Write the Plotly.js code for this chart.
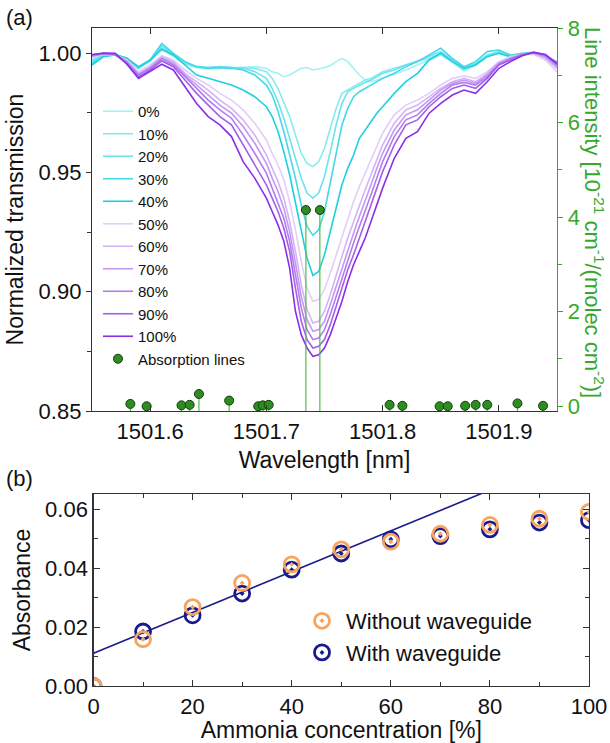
<!DOCTYPE html>
<html>
<head>
<meta charset="utf-8">
<script src="https://cdn.plot.ly/plotly-3.0.1.min.js"></script>
<style>
html,body{margin:0;padding:0;background:#fff;}
#chart{width:610px;height:743px;}
</style>
</head>
<body>
<div id="chart"></div>
<script>
// ---------- Panel (a): transmission spectra ----------
const wavelength = [1501.55,1501.56,1501.57,1501.58,1501.59,1501.60,1501.61,1501.62,1501.63,1501.64,1501.65,1501.66,1501.67,1501.68,1501.69,
  1501.70,1501.705,1501.71,1501.715,1501.72,1501.725,1501.73,1501.735,1501.74,1501.745,1501.75,1501.755,1501.76,1501.765,1501.77,1501.775,1501.78,1501.785,1501.79,1501.795,1501.80,
  1501.81,1501.82,1501.83,1501.84,1501.85,1501.86,1501.87,1501.88,1501.89,1501.90,1501.91,1501.92,1501.93,1501.94,1501.95];

const concLabels = ["0%","10%","20%","30%","40%","50%","60%","70%","80%","90%","100%"];

const trans0 = [0.9978,0.9994,0.9994,0.9975,0.9939,0.9964,1.0013,0.9985,0.9953,0.9939,0.9936,0.9939,0.9936,0.9939,0.9943,0.9936,0.9922,0.9915,0.9901,0.9908,0.9922,0.9936,0.9939,0.9929,0.9933,0.9939,0.9947,0.9964,0.9978,0.9964,0.9936,0.9908,0.9887,0.9880,0.9887,0.9894,0.9911,0.9929,0.9950,0.9971,0.9992,0.9961,0.9925,0.9950,0.9985,0.9999,0.9980,0.9989,0.9999,0.9971,0.9943];
const trans10 = [0.9971,0.9992,0.9994,0.9978,0.9939,0.9967,1.0022,0.9989,0.9957,0.9943,0.9939,0.9943,0.9939,0.9939,0.9936,0.9922,0.9894,0.9852,0.9796,0.9734,0.9657,0.9580,0.9538,0.9524,0.9545,0.9601,0.9685,0.9768,0.9831,0.9845,0.9859,0.9873,0.9887,0.9894,0.9908,0.9922,0.9936,0.9950,0.9961,0.9978,0.9999,0.9967,0.9929,0.9953,0.9989,1.0003,0.9985,0.9992,1.0000,0.9975,0.9953];
const trans20 = [0.9964,0.9992,0.9994,0.9978,0.9936,0.9967,1.0031,0.9994,0.9961,0.9943,0.9939,0.9943,0.9939,0.9936,0.9922,0.9894,0.9852,0.9796,0.9727,0.9643,0.9559,0.9476,0.9413,0.9392,0.9413,0.9483,0.9587,0.9699,0.9789,0.9838,0.9852,0.9866,0.9877,0.9887,0.9901,0.9915,0.9929,0.9950,0.9967,0.9985,1.0006,0.9971,0.9936,0.9957,0.9992,1.0006,0.9989,0.9994,1.0000,0.9978,0.9957];
const trans30 = [0.9957,0.9989,0.9994,0.9978,0.9936,0.9971,1.0040,0.9999,0.9964,0.9943,0.9936,0.9939,0.9936,0.9929,0.9908,0.9866,0.9824,0.9755,0.9671,0.9573,0.9476,0.9364,0.9273,0.9236,0.9259,0.9336,0.9462,0.9587,0.9699,0.9768,0.9817,0.9838,0.9852,0.9866,0.9880,0.9894,0.9915,0.9943,0.9964,0.9992,1.0020,0.9978,0.9943,0.9964,1.0006,1.0013,0.9992,0.9999,1.0003,0.9985,0.9964];
const trans40 = [0.9950,0.9985,0.9992,0.9978,0.9943,0.9971,1.0017,0.9992,0.9950,0.9908,0.9894,0.9880,0.9866,0.9845,0.9817,0.9775,0.9734,0.9671,0.9587,0.9490,0.9378,0.9252,0.9141,0.9068,0.9085,0.9155,0.9252,0.9350,0.9448,0.9517,0.9573,0.9643,0.9678,0.9713,0.9748,0.9775,0.9831,0.9880,0.9915,0.9971,0.9999,0.9964,0.9936,0.9950,0.9985,0.9999,0.9985,0.9992,0.9999,0.9985,0.9957];
const trans50 = [0.9985,0.9994,0.9992,0.9971,0.9922,0.9950,0.9989,0.9971,0.9929,0.9894,0.9866,0.9831,0.9803,0.9762,0.9706,0.9636,0.9580,0.9531,0.9469,0.9378,0.9259,0.9127,0.9015,0.8960,0.8967,0.9008,0.9078,0.9155,0.9232,0.9308,0.9378,0.9441,0.9497,0.9552,0.9608,0.9664,0.9741,0.9782,0.9803,0.9831,0.9866,0.9894,0.9905,0.9894,0.9922,0.9964,0.9985,0.9994,0.9994,0.9971,0.9922];
const trans60 = [0.9986,0.9996,0.9992,0.9967,0.9915,0.9943,0.9985,0.9964,0.9915,0.9880,0.9845,0.9803,0.9768,0.9720,0.9657,0.9573,0.9517,0.9462,0.9392,0.9294,0.9169,0.9029,0.8925,0.8869,0.8876,0.8918,0.8987,0.9071,0.9148,0.9225,0.9294,0.9364,0.9427,0.9490,0.9552,0.9615,0.9706,0.9762,0.9782,0.9817,0.9852,0.9880,0.9894,0.9880,0.9915,0.9961,0.9980,0.9994,0.9999,0.9980,0.9936];
const trans70 = [0.9989,0.9997,0.9992,0.9964,0.9911,0.9939,0.9980,0.9957,0.9908,0.9866,0.9824,0.9782,0.9748,0.9692,0.9622,0.9538,0.9476,0.9420,0.9350,0.9252,0.9120,0.8980,0.8883,0.8834,0.8841,0.8876,0.8946,0.9022,0.9099,0.9176,0.9245,0.9315,0.9378,0.9448,0.9517,0.9580,0.9678,0.9741,0.9762,0.9803,0.9845,0.9873,0.9887,0.9873,0.9908,0.9957,0.9978,0.9994,1.0000,0.9985,0.9943];
const trans80 = [0.9989,0.9997,0.9994,0.9961,0.9908,0.9936,0.9975,0.9950,0.9901,0.9852,0.9803,0.9762,0.9727,0.9657,0.9580,0.9497,0.9434,0.9378,0.9308,0.9211,0.9071,0.8932,0.8841,0.8799,0.8806,0.8841,0.8904,0.8980,0.9057,0.9134,0.9204,0.9273,0.9336,0.9406,0.9476,0.9545,0.9650,0.9720,0.9741,0.9789,0.9831,0.9866,0.9877,0.9866,0.9901,0.9953,0.9975,0.9994,1.0001,0.9989,0.9950];
const trans90 = [0.9992,0.9999,0.9994,0.9957,0.9901,0.9929,0.9967,0.9943,0.9887,0.9831,0.9782,0.9734,0.9699,0.9615,0.9531,0.9448,0.9392,0.9336,0.9266,0.9169,0.9015,0.8876,0.8799,0.8764,0.8771,0.8799,0.8862,0.8939,0.9015,0.9092,0.9155,0.9225,0.9287,0.9357,0.9427,0.9503,0.9615,0.9699,0.9720,0.9775,0.9817,0.9852,0.9866,0.9852,0.9894,0.9950,0.9971,0.9992,1.0003,0.9992,0.9953];
const trans100 = [0.9994,1.0000,0.9999,0.9953,0.9894,0.9922,0.9953,0.9929,0.9859,0.9789,0.9734,0.9699,0.9650,0.9545,0.9476,0.9392,0.9336,0.9280,0.9211,0.9099,0.8918,0.8820,0.8764,0.8729,0.8736,0.8764,0.8820,0.8890,0.8960,0.9043,0.9113,0.9169,0.9225,0.9294,0.9364,0.9434,0.9559,0.9643,0.9671,0.9748,0.9789,0.9824,0.9845,0.9831,0.9880,0.9936,0.9964,0.9989,1.0003,0.9994,0.9957];

const spectra = [trans0,trans10,trans20,trans30,trans40,trans50,trans60,trans70,trans80,trans90,trans100];
const specColors = ["#a4f1f6","#88eaf1","#6ce3ec","#44d9e6","#1fcfe0","#e4cdf9","#d3b3f6","#c497f3","#b27cf0","#a260ec","#8b2fe6"];

// Absorption lines (right axis)
const lineWavelength = [1501.583,1501.597,1501.627,1501.634,1501.642,1501.668,1501.693,1501.697,1501.702,1501.734,1501.746,1501.806,1501.817,1501.849,1501.856,1501.871,1501.880,1501.890,1501.916,1501.938];
const lineIntensity  = [0.05,0.0,0.02,0.03,0.26,0.12,0.0,0.02,0.03,4.15,4.15,0.03,0.01,0.0,0.0,0.01,0.03,0.03,0.06,0.01];

// ---------- Panel (b): absorbance ----------
const concentration = [0,10,20,30,40,50,60,70,80,90,100];
const absWithout = [0.0000,0.0159,0.0268,0.0350,0.0413,0.0464,0.0490,0.0517,0.0547,0.0568,0.0591];
const absWith    = [0.0000,0.0185,0.0240,0.0314,0.0395,0.0450,0.0498,0.0509,0.0532,0.0555,0.0563];
const fitConc = [0,100];
const fitAbs  = [0.0111,0.0804];

const FONT = "Liberation Sans, Arial, sans-serif";
const GREEN = "#36a82c";
const y2Bottom = -0.1;

const traces = [];
spectra.forEach((s,i)=>{
  traces.push({x: wavelength, y: s, type:'scatter', mode:'lines', name: concLabels[i],
    line:{color: specColors[i], width:1.6}, xaxis:'x', yaxis:'y', legend:'legend'});
});
// stems
const stemX = [], stemY = [];
lineWavelength.forEach((w,i)=>{ stemX.push(w,w,null); stemY.push(y2Bottom, lineIntensity[i], null); });
traces.push({x: stemX, y: stemY, type:'scatter', mode:'lines', showlegend:false,
  line:{color:'#52bd45', width:1.2}, xaxis:'x', yaxis:'y2', hoverinfo:'skip'});
traces.push({x: lineWavelength, y: lineIntensity, type:'scatter', mode:'markers', name:'Absorption lines',
  marker:{color:'#2b8f1f', size:9, line:{color:'#1a3a10', width:1}}, xaxis:'x', yaxis:'y2', legend:'legend', cliponaxis:false});

// panel b
traces.push({x: fitConc, y: fitAbs, type:'scatter', mode:'lines', showlegend:false,
  line:{color:'#1a1a8a', width:1.6}, xaxis:'x2', yaxis:'y3'});
traces.push({x: concentration, y: absWith, type:'scatter', mode:'markers', name:'With waveguide', legendrank:2,
  marker:{symbol:'circle-open-dot', size:15, color:'#1a1a8a', line:{width:2.8, color:'#1a1a8a'}}, xaxis:'x2', yaxis:'y3', legend:'legend2'});
traces.push({x: concentration, y: absWithout, type:'scatter', mode:'markers', name:'Without waveguide', legendrank:1,
  marker:{symbol:'circle-open-dot', size:15, color:'#f7a45e', line:{width:2.8, color:'#f7a45e'}}, xaxis:'x2', yaxis:'y3', legend:'legend2'});

const W=610, H=743;
const px = v => v/W, py = v => 1 - v/H;

const layout = {
  width: W, height: H,
  margin:{l:0,r:0,t:0,b:0},
  paper_bgcolor:'#fff', plot_bgcolor:'rgba(0,0,0,0)',
  font:{family: FONT, size:22, color:'#111'},
  showlegend:true,
  xaxis:{domain:[px(92),px(557)], range:[1501.55,1501.95], anchor:'y',
    tickvals:[1501.6,1501.7,1501.8,1501.9], ticktext:['1501.6','1501.7','1501.8','1501.9'],
    ticks:'inside', ticklen:6, tickcolor:'#333', showline:true, linecolor:'#333', linewidth:1.2, mirror:'ticks',
    showgrid:false, zeroline:false, tickfont:{size:22},
    title:{text:'Wavelength [nm]', font:{size:23}, standoff:9}},
  yaxis:{domain:[py(411),py(28)], range:[0.85,1.0105], anchor:'x',
    tickvals:[0.85,0.90,0.95,1.00], ticktext:['0.85','0.90','0.95','1.00'],
    ticks:'outside', ticklen:5, tickcolor:'#333', showline:true, linecolor:'#333', linewidth:1.2,
    minor:{tickvals:[0.875,0.925,0.975], ticks:'outside', ticklen:4, tickcolor:'#333'},
    showgrid:false, zeroline:false, tickfont:{size:22},
    title:{text:'Normalized transmission', font:{size:23}, standoff:8}},
  yaxis2:{overlaying:'y', side:'right', anchor:'x', range:[y2Bottom,8],
    tickvals:[0,2,4,6,8], ticks:'outside', ticklen:5, tickcolor:GREEN,
    minor:{tickvals:[1,3,5,7], ticks:'outside', ticklen:4, tickcolor:GREEN},
    showline:true, linecolor:GREEN, linewidth:1.4, showgrid:false, zeroline:false,
    tickfont:{size:22, color:GREEN}},
  xaxis2:{domain:[px(93.5),px(589)], range:[0,100], anchor:'y3',
    tickvals:[0,20,40,60,80,100], ticks:'inside', ticklen:6, tickcolor:'#333',
    minor:{tickvals:[10,30,50,70,90], ticks:'inside', ticklen:4, tickcolor:'#333'},
    showline:true, linecolor:'#333', linewidth:1.2, mirror:'ticks', showgrid:false, zeroline:false,
    tickfont:{size:22},
    title:{text:'Ammonia concentration [%]', font:{size:23}, standoff:4}},
  yaxis3:{domain:[py(686),py(494)], range:[0,0.0652], anchor:'x2',
    tickvals:[0,0.02,0.04,0.06], ticktext:['0.00','0.02','0.04','0.06'],
    ticks:'inside', ticklen:6, tickcolor:'#333',
    minor:{tickvals:[0.01,0.03,0.05], ticks:'inside', ticklen:4, tickcolor:'#333'},
    showline:true, linecolor:'#333', linewidth:1.2, mirror:'ticks', showgrid:false, zeroline:false,
    tickfont:{size:22},
    title:{text:'Absorbance', font:{size:23}, standoff:8}},
  legend:{x:px(98), y:py(95), xanchor:'left', yanchor:'top', bgcolor:'rgba(0,0,0,0)',
    font:{size:15, color:'#111'}, tracegroupgap:0, itemwidth:30},
  legend2:{x:px(298), y:py(600), xanchor:'left', yanchor:'top', bgcolor:'rgba(0,0,0,0)',
    font:{size:22, color:'#111'}, tracegroupgap:0, itemwidth:38, traceorder:'normal'},
  annotations:[
    {text:'(a)', x:px(4), y:py(18), xref:'paper', yref:'paper', xanchor:'left', yanchor:'middle', showarrow:false, font:{size:22}},
    {text:'(b)', x:px(4), y:py(478), xref:'paper', yref:'paper', xanchor:'left', yanchor:'middle', showarrow:false, font:{size:22}},
    {text:'Line intensity [10<sup>-21</sup> cm<sup>-1</sup>/(molec cm<sup>-2</sup>)]', textangle:90,
     x:px(594), y:py(212), xref:'paper', yref:'paper', xanchor:'center', yanchor:'middle', showarrow:false,
     font:{size:22, color:GREEN}}
  ]
};

Plotly.newPlot('chart', traces, layout, {staticPlot:true, displayModeBar:false});
</script>
</body>
</html>
